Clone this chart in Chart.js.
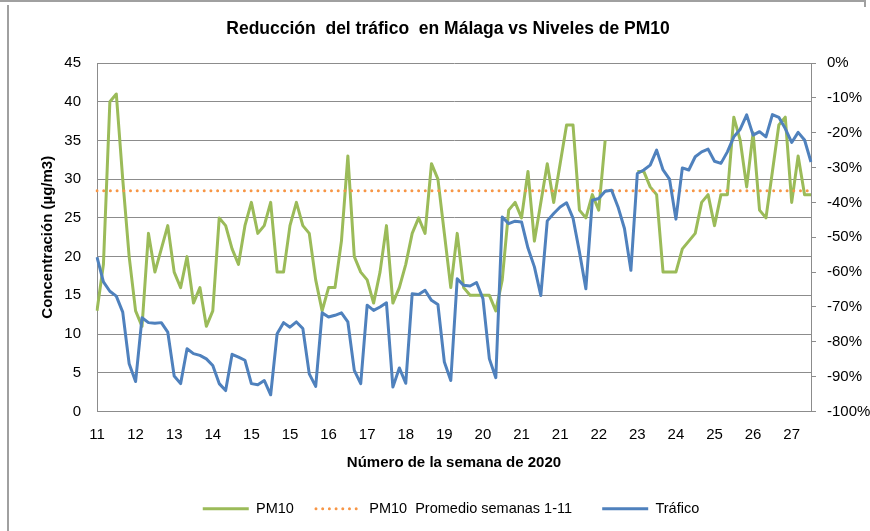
<!DOCTYPE html>
<html>
<head>
<meta charset="utf-8">
<script src="https://cdn.jsdelivr.net/npm/chart.js@4.4.0/dist/chart.umd.min.js"></script>
<style>
  html, body { margin: 0; padding: 0; background: #fff; }
  #wrap { position: relative; width: 870px; height: 531px; overflow: hidden; }
  #frameTop { position: absolute; left: -4px; top: 0; width: 868px; height: 5px; border-top: 2px solid #a0a0a0; border-right: 2px solid #a0a0a0; }
  #frameLeft { position: absolute; left: 7px; top: 5px; width: 0; height: 540px; border-left: 2px solid #a0a0a0; }
  #myChart { position: absolute; left: 0; top: 0; }
</style>
</head>
<body>
<div id="wrap">
  <div id="frameTop"></div>
  <div id="frameLeft"></div>
  <canvas id="myChart" width="870" height="531"></canvas>
</div>
<script>
const ctx = document.getElementById("myChart").getContext("2d");

// semana de cada día (112 días, etiqueta cada 6)
const semanas = [
  11, 11, 11,
  12, 12, 12, 12, 12, 12, 12,
  13, 13, 13, 13, 13, 13, 13,
  14, 14, 14, 14, 14, 14, 14,
  15, 15, 15, 15, 15, 15, 15,
  16, 16, 16, 16, 16, 16, 16,
  17, 17, 17, 17, 17, 17, 17,
  18, 18, 18, 18, 18, 18, 18,
  19, 19, 19, 19, 19, 19, 19,
  20, 20, 20, 20, 20, 20, 20,
  21, 21, 21, 21, 21, 21, 21,
  22, 22, 22, 22, 22, 22, 22,
  23, 23, 23, 23, 23, 23, 23,
  24, 24, 24, 24, 24, 24, 24,
  25, 25, 25, 25, 25, 25, 25,
  26, 26, 26, 26, 26, 26, 26,
  27, 27, 27, 27,
];

// PM10 en µg/m3
const pm10 = [
  13, 19, 40, 41, 30, 20, 13, 11, 23, 18,
  21, 24, 18, 16, 20, 14, 16, 11, 13, 25,
  24, 21, 19, 24, 27, 23, 24, 27, 18, 18,
  24, 27, 24, 23, 17, 13, 16, 16, 22, 33,
  20, 18, 17, 14, 18, 24, 14, 16, 19, 23,
  25, 23, 32, 30, 23, 16, 23, 16, 15, 15,
  15, 15, 13, 17, 26, 27, 25, 31, 22, 27,
  32, 27, 32, 37, 37, 26, 25, 28, 26, 35,
  null, null, null, null, 31, 31, 29, 28, 18, 18,
  18, 21, 22, 23, 27, 28, 24, 28, 28, 38,
  35, 29, 36, 26, 25, 31, 37, 38, 27, 33,
  28, 28,
];

// promedio semanas 1-11
const promedioPM10 = 28.5;

// reducción del tráfico en %
const trafico = [
  -55.7, -62.8, -65.5, -66.9, -71.5, -86.3, -91.4, -73.1, -74.5, -74.7,
  -74.5, -77.2, -89.8, -92, -82, -83.4, -83.9, -84.9, -86.8, -92,
  -94, -83.6, -84.4, -85.3, -92, -92.3, -91.1, -95.2, -77.7, -74.5,
  -75.8, -74.3, -76.2, -89.2, -92.8, -71.7, -72.9, -72.4, -71.7, -74.3,
  -88.2, -92, -69.5, -71, -70, -68.8, -93, -87.5, -91.9, -66.2,
  -66.4, -65.2, -68.1, -69.3, -85.8, -91.1, -61.9, -63.8, -64, -63,
  -67.6, -84.9, -90.3, -44.2, -46.1, -45.4, -45.6, -53.1, -58.5, -66.7,
  -45.3, -43.2, -41.3, -40.1, -44.5, -54.2, -64.8, -39.4, -38.9, -36.8,
  -36.5, -41.3, -47.5, -59.5, -31.7, -30.7, -29.3, -25, -30.7, -33.3,
  -44.8, -30.1, -30.7, -26.9, -25.5, -24.7, -28.2, -28.8, -25.5, -21.2,
  -19, -14.9, -20.7, -19.7, -21.2, -14.8, -15.6, -18.8, -22.8, -19.9,
  -22.1, -28.4,
];

const labelEvery = 6;
const gridColor = "#8c8c8c";

Chart.defaults.font.family = "'Liberation Sans', Arial, sans-serif";
Chart.defaults.color = "#000";

// mover título y leyenda como en el original
const shiftBoxes = {
  id: "shiftBoxes",
  afterLayout(chart) {
    chart.titleBlock.left += 13;
    chart.titleBlock.right += 13;
    chart.legend.left += 16;
    chart.legend.right += 16;
    chart.legend.top -= 5;
    chart.legend.bottom -= 5;
  },
};

// líneas de la leyenda con el mismo trazo que la serie
function legendLabels(chart) {
  const items = Chart.defaults.plugins.legend.labels.generateLabels(chart);
  const gaps = ["   ", "     ", ""];
  items.forEach((item) => {
    const ds = chart.data.datasets[item.datasetIndex];
    item.lineDash = ds.borderDash || [];
    item.lineCap = ds.borderCapStyle || "butt";
    item.lineWidth = ds.borderWidth;
    item.strokeStyle = ds.borderColor;
    item.text = item.text + gaps[item.datasetIndex];
  });
  return items;
}

const myChart = new Chart(ctx, {
  type: "line",
  data: {
    labels: semanas,
    datasets: [
      {
        label: "PM10",
        data: pm10,
        borderColor: "#9bbb59",
        backgroundColor: "#9bbb59",
        borderWidth: 3,
        yAxisID: "y",
        order: 3,
      },
      {
        label: "PM10  Promedio semanas 1-11",
        data: semanas.map(() => promedioPM10),
        borderColor: "#f79646",
        backgroundColor: "#f79646",
        borderWidth: 3,
        borderDash: [0, 6.7],
        borderCapStyle: "round",
        yAxisID: "y",
        order: 2,
      },
      {
        label: "Tráfico",
        data: trafico,
        borderColor: "#4f81bd",
        backgroundColor: "#4f81bd",
        borderWidth: 3,
        yAxisID: "y1",
        order: 1,
      },
    ],
  },
  options: {
    responsive: false,
    animation: false,
    spanGaps: false,
    elements: {
      point: { radius: 0 },
      line: { tension: 0, borderJoinStyle: "round" },
    },
    layout: { padding: 0 },
    plugins: {
      tooltip: { enabled: false },
      title: {
        display: true,
        text: "Reducción  del tráfico  en Málaga vs Niveles de PM10",
        font: { size: 17.5, weight: "bold" },
        color: "#000",
        padding: { top: 19, bottom: 23 },
      },
      legend: {
        position: "bottom",
        reverse: true,
        labels: {
          usePointStyle: true,
          pointStyle: "line",
          pointStyleWidth: 46,
          font: { size: 14.5 },
          padding: 10,
          color: "#000",
          generateLabels: legendLabels,
        },
      },
    },
    scales: {
      x: {
        offset: false,
        grid: { display: false, drawTicks: false },
        border: { display: true, color: gridColor },
        ticks: {
          autoSkip: false,
          maxRotation: 0,
          minRotation: 0,
          padding: 14,
          font: { size: 15 },
          callback: function (val, i) {
            return i % labelEvery === 0 ? this.getLabelForValue(val) : "";
          },
        },
        title: {
          display: true,
          text: "Número de la semana de 2020",
          font: { size: 15, weight: "bold" },
          padding: { top: 0, bottom: 25 },
        },
        afterFit: (s) => { s.height = 85; },
      },
      y: {
        position: "left",
        min: 0,
        max: 45,
        ticks: { stepSize: 5, padding: 16, font: { size: 15 } },
        grid: { color: gridColor, drawTicks: false },
        border: { display: true, color: gridColor },
        title: {
          display: true,
          text: "Concentración (µg/m3)",
          font: { size: 15, weight: "bold" },
          padding: { top: 39, bottom: 0 },
        },
        afterFit: (s) => { s.width = 97; },
      },
      y1: {
        position: "right",
        min: -100,
        max: 0,
        ticks: {
          stepSize: 10,
          padding: 11,
          font: { size: 15 },
          callback: (v) => v + "%",
        },
        grid: { drawOnChartArea: false, color: gridColor, tickLength: 5 },
        border: { display: true, color: gridColor },
        afterFit: (s) => { s.width = 59; },
      },
    },
  },
  plugins: [shiftBoxes],
});
</script>
</body>
</html>
